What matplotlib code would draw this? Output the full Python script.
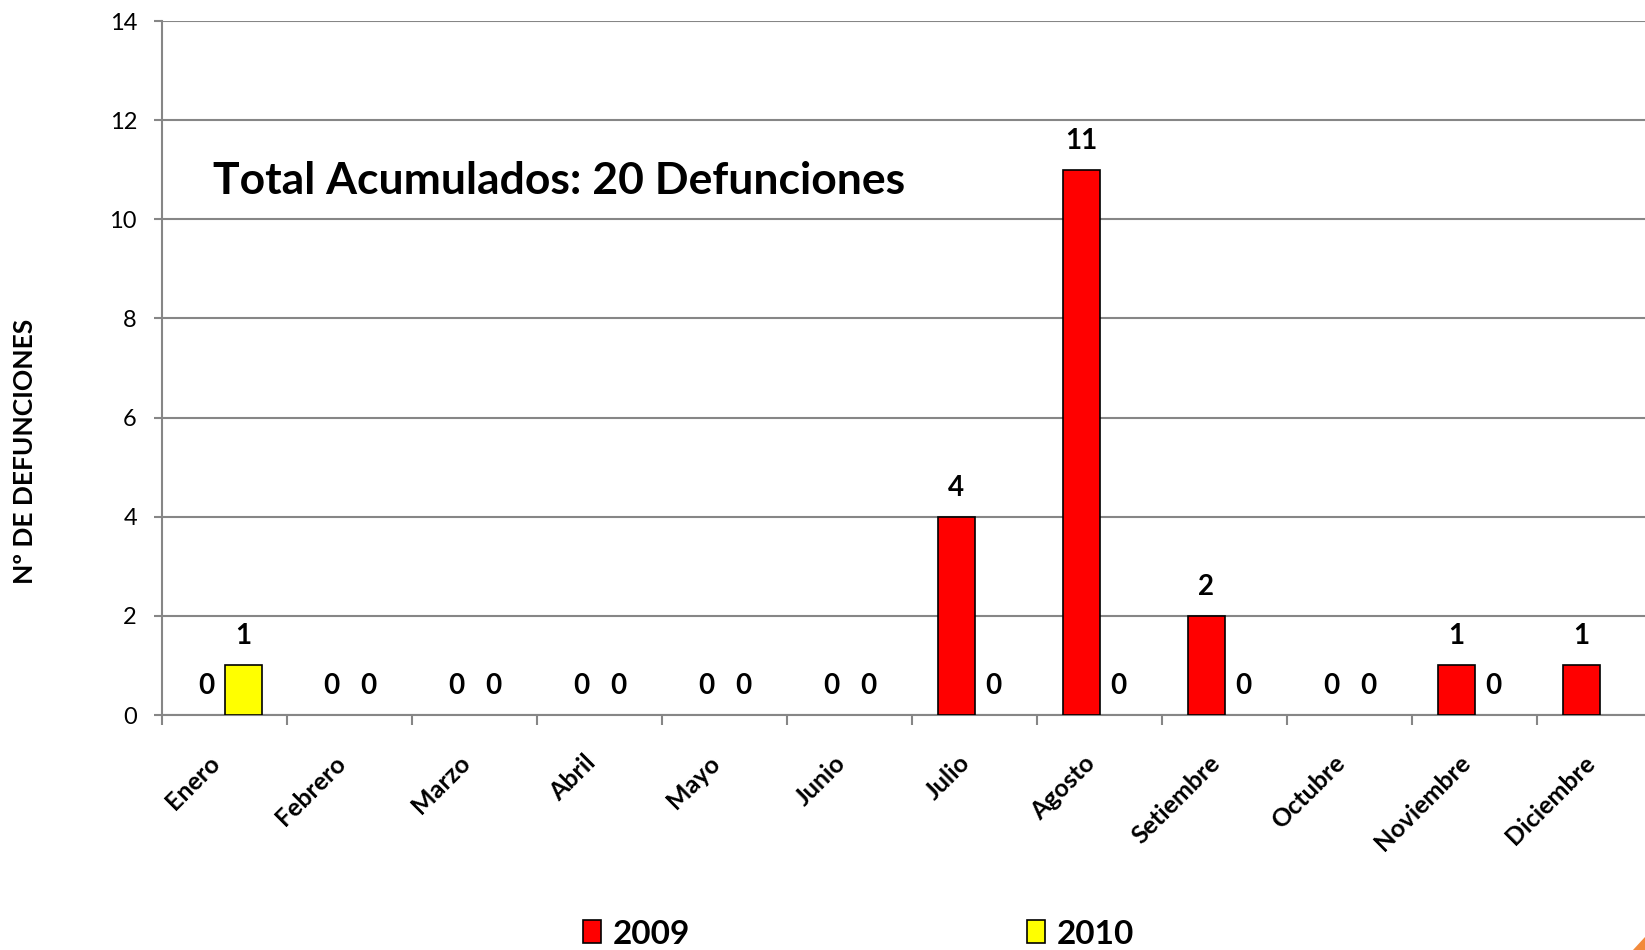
import numpy as np
import matplotlib
matplotlib.use("Agg")
import matplotlib.pyplot as plt
from matplotlib.patches import Patch, Polygon

months = ["Enero", "Febrero", "Marzo", "Abril", "Mayo", "Junio", "Julio",
          "Agosto", "Setiembre", "Octubre", "Noviembre", "Diciembre"]
deaths_2009 = [0, 0, 0, 0, 0, 0, 4, 11, 2, 0, 1, 1]
deaths_2010 = [1, 0, 0, 0, 0, 0, 0, 0, 0, 0, 0, np.nan]
series_names = ["2009", "2010"]
series_colors = ["#FF0000", "#FFFF00"]
title_text = "Total Acumulados: 20 Defunciones"
ylabel_text = "Nº DE DEFUNCIONES"
yticks = [0, 2, 4, 6, 8, 10, 12, 14]

W, H = 1645, 950
fig = plt.figure(figsize=(W / 100, H / 100), dpi=100)
ax = fig.add_axes([162 / W, (H - 715) / H, 1500 / W, 694 / H])

grey = "#868686"
x = np.arange(len(months))
bw = 0.296

all_bars = []
for i, (vals, col) in enumerate(zip([deaths_2009, deaths_2010], series_colors)):
    off = (i - 0.5) * bw
    bars = ax.bar(x + off, vals, width=bw, color=col, edgecolor="black",
                  linewidth=1.2, zorder=3, label=series_names[i])
    all_bars.append((bars, vals))

for bars, vals in all_bars:
    for rect, v in zip(bars, vals):
        if v is None or (isinstance(v, float) and np.isnan(v)):
            continue
        if v == 0:
            rect.set_edgecolor("none")
        ax.annotate(f"{int(v)}", (rect.get_x() + rect.get_width() / 2, rect.get_height()),
                    xytext=(0, 21), textcoords="offset points", ha="center", va="center",
                    fontsize=20, fontweight="bold", family="Lato", zorder=4)

ax.set_xlim(-0.5, len(months) - 0.5)
ax.set_ylim(0, 14)
ax.set_yticks(yticks)
ax.set_yticklabels([str(t) for t in yticks], fontsize=17, family="Lato")
ax.tick_params(axis="y", length=6, width=1.5, color=grey, pad=12)

ax.set_xticks(x)
ax.set_xticklabels(months, rotation=45, ha="right", fontsize=18,
                   fontweight="bold", family="Lato")
ax.set_xticks(np.arange(-0.5, len(months) + 0.5, 1), minor=True)
ax.tick_params(axis="x", which="major", length=0, pad=26)
ax.tick_params(axis="x", which="minor", length=7, width=1.5, color=grey)

ax.grid(axis="y", color=grey, linewidth=1.5, zorder=0)
ax.set_axisbelow(True)
for s in ["top", "right"]:
    ax.spines[s].set_visible(False)
for s in ["left", "bottom"]:
    ax.spines[s].set_color(grey)
    ax.spines[s].set_linewidth(1.5)

ax.text(-0.09, 10.5, title_text, fontsize=32, fontweight="bold", family="Lato",
        ha="left", va="baseline")

fig.text(25 / W, (H - 451) / H, ylabel_text, rotation=90, ha="center", va="center",
         fontsize=19, fontweight="bold", family="Lato")

handles = [Patch(facecolor=c, edgecolor="black", linewidth=1.2) for c in series_colors]
leg = fig.legend(handles, series_names, loc="center left",
                 bbox_to_anchor=(583 / W, (H - 934) / H), ncol=2, frameon=False,
                 borderpad=0, borderaxespad=0, handlelength=0.55, handleheight=0.68,
                 handletextpad=0.35, columnspacing=10.1,
                 prop={"family": "Lato", "weight": "bold", "size": 24})

fig.patches.append(Polygon([[(W - 12) / W, 0], [1, 13 / H], [1, 0]], closed=True,
                           transform=fig.transFigure, facecolor="#F28A3C",
                           edgecolor="none"))

fig.savefig("out.png", dpi=100)
